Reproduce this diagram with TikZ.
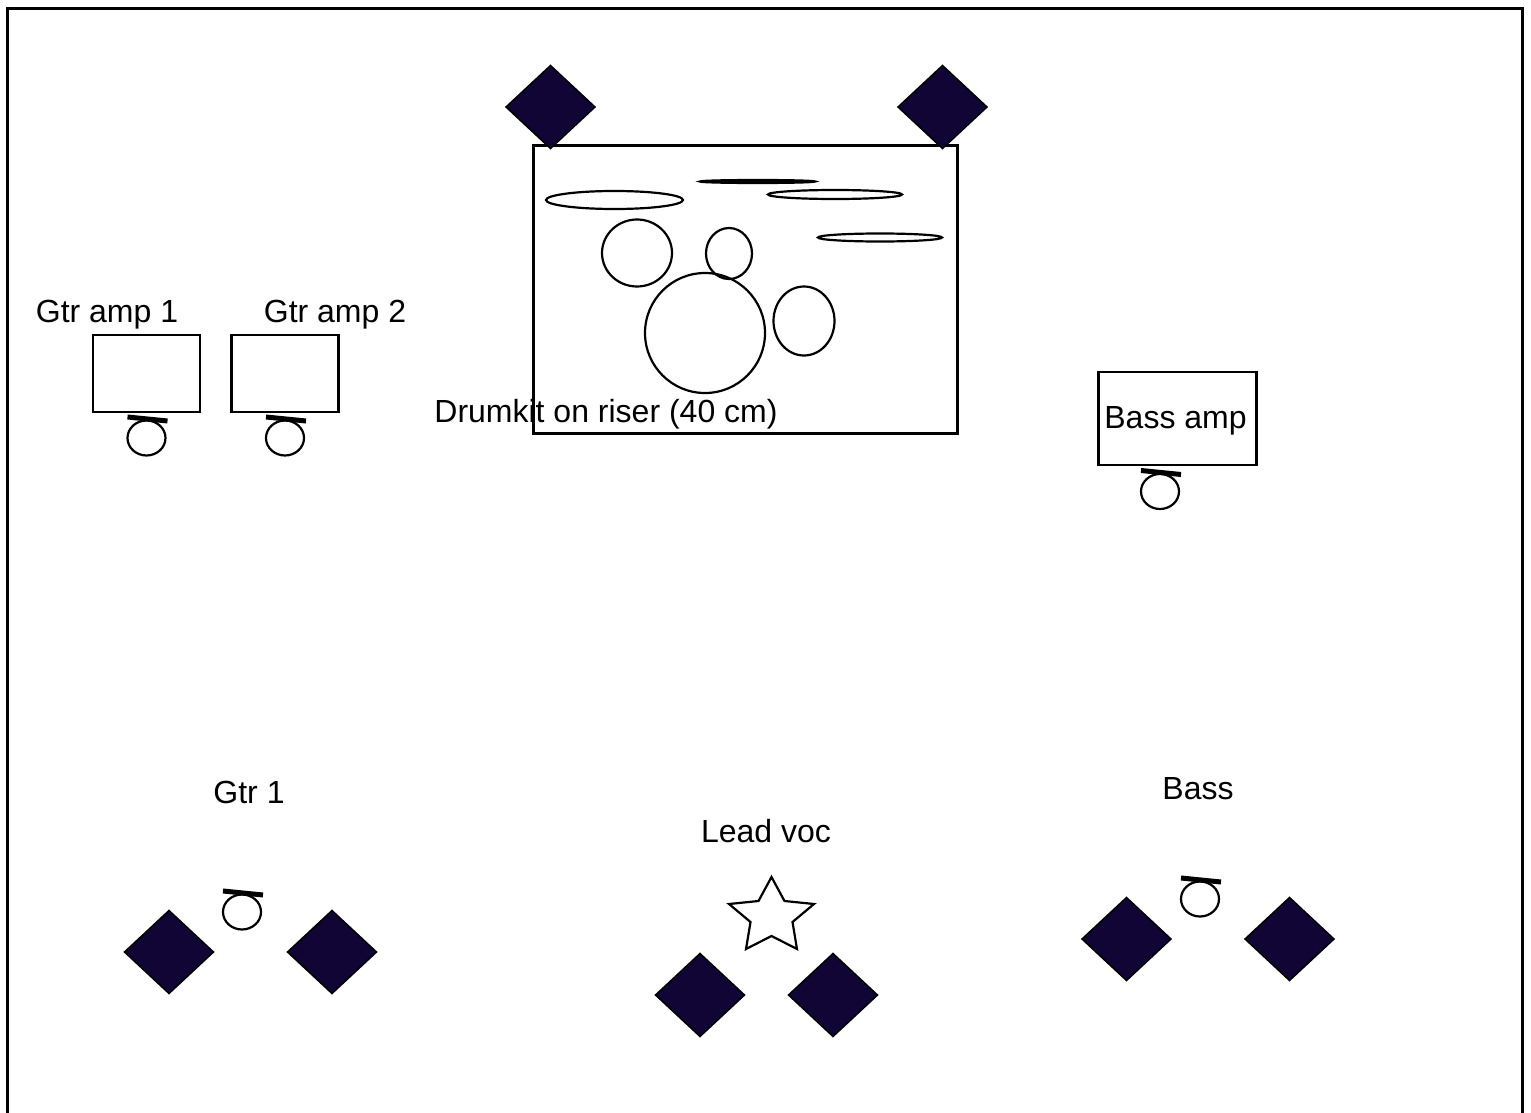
\documentclass[tikz,border=0pt]{standalone}
\usepackage{fontspec}
\setmainfont{Liberation Sans}
\usetikzlibrary{positioning, shapes.geometric}
\definecolor{speakerBlue}{HTML}{110536}

\begin{document}
\begin{tikzpicture}[
    x=1pt, y=-1pt,
    line width=2.2pt,
    amp/.style={draw, rectangle, inner sep=0pt, align=center},
    label/.style={font=\fontsize{32}{36}\selectfont, inner sep=0pt},
    drum/.style={draw, ellipse, inner sep=0pt},
    cymbal/.style={draw, ellipse, inner sep=0pt, minimum height=#1},
    speaker/.pic={\draw[fill=speakerBlue, line width=1.5pt] (-44.5,0) -- (0,-41.5) -- (44.5,0) -- (0,41.5) -- cycle;},
    player/.pic={
      \node[drum, minimum width=38pt, minimum height=35pt] at (0,0) {};
      \draw[line width=5pt] (-19,-21) -- (21,-17);
    }
  ]
  \useasboundingbox (0,0) rectangle (1531,1113);

  % Stage outline
  \draw[line width=3pt] (7,9) rectangle (1522,1125);

  % Drum riser
  \node[amp, minimum width=424pt, minimum height=288pt] (riser) at (745.5,289.5) {};
  \pic at (550.5,107) {speaker};
  \pic at (942.5,107) {speaker};
  \node[cymbal=18pt, minimum width=137pt] (crash) at (614.5,200) {};
  \node[cymbal=3pt, minimum width=115pt, fill=black] (hihat) at (757.5,181.5) {};
  \node[cymbal=9pt, minimum width=134pt] (ride) at (835,194.5) {};
  \node[cymbal=8pt, minimum width=124pt] (china) at (880,237.5) {};
  \node[drum, minimum width=70pt, minimum height=67pt] (tomA) at (637,253) {};
  \node[drum, minimum width=46pt, minimum height=51pt] (tomB) at (729,253.5) {};
  \node[drum, minimum width=120pt, minimum height=120pt] (kick) at (705,333) {};
  \node[drum, minimum width=61pt, minimum height=69pt] (floortom) at (804,321) {};
  \node[label] (riserlabel) at (606,414.5) {Drumkit on riser (40 cm)};

  % Guitar amps
  \node[amp, minimum width=107pt, minimum height=77pt] (ampA) at (146.5,373.5) {};
  \node[amp, minimum width=107pt, minimum height=77pt] (ampB) at (285,373.5) {};
  \node[label] (ampAlabel) at (107,314.5) {Gtr amp 1};
  \node[label] (ampBlabel) at (335,314.5) {Gtr amp 2};
  \pic at (146.5,438) {player};
  \pic at (285,438) {player};

  % Bass amp
  \node[amp, minimum width=158pt, minimum height=93pt] (bassamp) at (1177.5,418.5) {};
  \node[label] (bassamplabel) at (1175.5,421) {Bass amp};
  \pic at (1160,491.5) {player};

  % Guitar 1
  \node[label] (gtrlabel) at (249,792) {Gtr 1};
  \pic at (242,912) {player};
  \pic at (169,952) {speaker};
  \pic at (332,952) {speaker};

  % Lead vocals
  \node[label] (vocallabel) at (766,831.5) {Lead voc};
  \draw[line join=miter] (771.5,877) -- (784.5,901) -- (814,904) -- (792.5,922) -- (797,949) -- (771.5,936) -- (746,949) -- (750.5,922) -- (729,904) -- (758.5,901) -- cycle;
  \pic at (700,995) {speaker};
  \pic at (833,995) {speaker};

  % Bass
  \node[label] (basslabel) at (1198,789) {Bass};
  \pic at (1200,899) {player};
  \pic at (1126.5,939) {speaker};
  \pic at (1289.5,939) {speaker};
\end{tikzpicture}
\end{document}
